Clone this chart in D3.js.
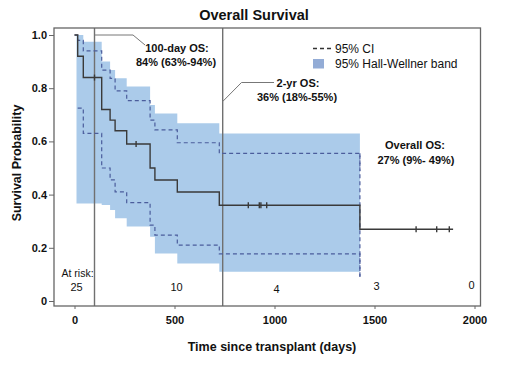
<!DOCTYPE html>
<html><head><meta charset="utf-8">
<script src="https://cdn.jsdelivr.net/npm/d3@7"></script>
<style>
html,body{margin:0;padding:0;background:#fff;}
svg{display:block;font-family:"Liberation Sans",Arial,sans-serif;}
</style></head>
<body><svg id="chart" width="520" height="372"></svg>
<script>
// ---- data ----
const eventTimes = [0, 16, 44, 136, 178, 203, 261, 378, 402, 514, 724, 1427];
const survival   = [1.0, 0.92, 0.84, 0.72, 0.68, 0.64, 0.59, 0.50, 0.455, 0.41, 0.36, 0.27];
const lastFollowUp = 1893;
const ciUpper = [1.0, 0.98, 0.94, 0.868, 0.837, 0.79, 0.753, 0.68, 0.643, 0.595, 0.555, 0.49];
const ciLower = [null, 0.725, 0.63, 0.50, 0.455, 0.41, 0.37, 0.285, 0.248, 0.21, 0.177, 0.09];
const bandTimes = [10, 44, 136, 178, 203, 261, 378, 402, 514, 724, 1427];
const bandUpper = [1.0, 0.975, 0.90, 0.868, 0.837, 0.806, 0.737, 0.705, 0.668, 0.63, 0.63];
const bandLower = [0.367, 0.367, 0.361, 0.342, 0.311, 0.28, 0.242, 0.179, 0.141, 0.11, 0.11];
const censorTimes = [100, 308, 869, 924, 932, 961, 1708, 1811, 1874];
const riskTimes = [0, 500, 1000, 1500, 2000];
const riskCounts = [25, 10, 4, 3, 0];
const xTicks = [0, 500, 1000, 1500, 2000];
const yTicks = [0, 0.2, 0.4, 0.6, 0.8, 1.0];
const refTimes = [100, 741];

// ---- layout ----
const svg = d3.select("#chart");
const frame = {left: 54, right: 480.5, top: 28, bottom: 306};
const x = d3.scaleLinear().domain([0, 2000]).range([74.5, 474.5]);
const y = d3.scaleLinear().domain([0, 1]).range([301, 35]);

function survAt(t){
  let s = survival[0];
  for (let i = 0; i < eventTimes.length; i++) if (eventTimes[i] <= t) s = survival[i];
  return s;
}

// band
const bandData = bandTimes.map((t,i)=>({t, lo: bandLower[i], hi: bandUpper[i]}));
svg.append("path")
  .datum(bandData)
  .attr("fill", "#abcbea")
  .attr("d", d3.area().curve(d3.curveStepAfter).x(d=>x(d.t)).y0(d=>y(d.lo)).y1(d=>y(d.hi)));

// reference vertical lines
svg.selectAll("line.ref").data(refTimes).join("line")
  .attr("class","ref")
  .attr("x1", d=>x(d)).attr("x2", d=>x(d))
  .attr("y1", frame.top).attr("y2", frame.bottom)
  .attr("stroke", "#707070").attr("stroke-width", 1.4);

// CI dashed lines
const stepLine = d3.line().curve(d3.curveStepAfter).x(d=>x(d.t)).y(d=>y(d.v));
const upData = eventTimes.map((t,i)=>({t, v: ciUpper[i]}));
const loData = eventTimes.map((t,i)=>({t, v: ciLower[i]})).filter(d=>d.v!==null);
[upData, loData].forEach(dat=>{
  svg.append("path").datum(dat)
    .attr("fill","none").attr("stroke","#4b5d9c").attr("stroke-width",1.2)
    .attr("stroke-dasharray","4,3")
    .attr("d", stepLine);
});
const lastI = eventTimes.length - 1;
svg.append("line")
  .attr("x1", x(eventTimes[lastI])).attr("x2", x(eventTimes[lastI]))
  .attr("y1", y(ciUpper[lastI-1])).attr("y2", y(ciLower[lastI]))
  .attr("stroke","#4b5d9c").attr("stroke-width",1.2).attr("stroke-dasharray","4,3");

// KM curve
const kmData = eventTimes.map((t,i)=>({t, v: survival[i]}));
kmData.push({t: lastFollowUp, v: survival[lastI]});
svg.append("path").datum(kmData)
  .attr("fill","none").attr("stroke","#3a3a3a").attr("stroke-width",1.4)
  .attr("d", stepLine);

// censor marks
svg.selectAll("line.cens").data(censorTimes).join("line")
  .attr("class","cens")
  .attr("x1", d=>x(d)).attr("x2", d=>x(d))
  .attr("y1", d=>y(survAt(d))-3).attr("y2", d=>y(survAt(d))+3)
  .attr("stroke","#3a3a3a").attr("stroke-width",1.4);

// frame
svg.append("rect")
  .attr("x", frame.left).attr("y", frame.top)
  .attr("width", frame.right-frame.left).attr("height", frame.bottom-frame.top)
  .attr("fill","none").attr("stroke","#666").attr("stroke-width",1.3);

// axes
const yAxis = d3.axisLeft(y).tickValues(yTicks).tickSize(5).tickPadding(2)
  .tickFormat(d=> d===0 ? "0" : d3.format(".1f")(d));
const gy = svg.append("g").attr("transform", `translate(${frame.left},0)`).call(yAxis);
const xAxis = d3.axisBottom(x).tickValues(xTicks).tickSize(3).tickPadding(7).tickFormat(d3.format("d"));
const gx = svg.append("g").attr("transform", `translate(0,${frame.bottom})`).call(xAxis);
[gx, gy].forEach(g=>{
  g.select(".domain").remove();
  g.selectAll(".tick line").attr("stroke","#666");
  g.selectAll(".tick text").attr("fill","#111").style("font-size","11px").style("font-weight","bold")
    .style("font-family",'"Liberation Sans",Arial,sans-serif');
});

// titles
svg.append("text").attr("x", 254).attr("y", 20).attr("text-anchor","middle")
  .style("font-size","14.5px").style("font-weight","bold").attr("fill","#111").text("Overall Survival");
svg.append("text").attr("x", 272).attr("y", 351).attr("text-anchor","middle")
  .style("font-size","12.5px").style("font-weight","bold").attr("fill","#111").text("Time since transplant (days)");
svg.append("text").attr("transform","translate(21,163) rotate(-90)").attr("text-anchor","middle")
  .style("font-size","12.5px").style("font-weight","bold").attr("fill","#111").text("Survival Probability");

// annotations
const ann = svg.append("g").style("font-size","11px").style("font-weight","bold").attr("fill","#111");
ann.append("text").attr("x",177).attr("y",52).attr("text-anchor","middle").text("100-day OS:");
ann.append("text").attr("x",176).attr("y",66).attr("text-anchor","middle").text("84% (63%-94%)");
ann.append("text").attr("x",298).attr("y",86.5).attr("text-anchor","middle").text("2-yr OS:");
ann.append("text").attr("x",297).attr("y",100.5).attr("text-anchor","middle").text("36% (18%-55%)");
ann.append("text").attr("x",415).attr("y",149).attr("text-anchor","middle").text("Overall OS:");
ann.append("text").attr("x",416).attr("y",164).attr("text-anchor","middle").text("27% (9%- 49%)");

// leader lines
const lead = d3.line();
svg.append("path").attr("fill","none").attr("stroke","#777").attr("stroke-width",1)
  .attr("d", lead([[x(refTimes[0]), frame.top+7],[133,35],[145,45]]));
svg.append("path").attr("fill","none").attr("stroke","#777").attr("stroke-width",1)
  .attr("d", lead([[x(refTimes[1]),101.5],[241.5,82.5],[274,82.5]]));

// legend
const lg = svg.append("g");
lg.append("line").attr("x1",313).attr("x2",333).attr("y1",48.5).attr("y2",48.5)
  .attr("stroke","#333").attr("stroke-width",1.3).attr("stroke-dasharray","4,3");
lg.append("text").attr("x",335).attr("y",52.5).style("font-size","12px").attr("fill","#111").text("95% CI");
lg.append("rect").attr("x",313).attr("y",59).attr("width",11).attr("height",9.5).attr("fill","#93acd6");
lg.append("text").attr("x",335).attr("y",67.5).style("font-size","12px").attr("fill","#111").text("95% Hall-Wellner band");

// at risk
svg.append("text").attr("x",61.5).attr("y",277).style("font-size","10.5px").attr("fill","#111").text("At risk:");
svg.selectAll("text.risk").data(riskTimes).join("text")
  .attr("class","risk")
  .attr("x",(d,i)=> i===riskTimes.length-1 ? x(d)-3 : x(d)+2)
  .attr("y",(d,i)=>[291,291,293,290,289][i])
  .attr("text-anchor","middle").style("font-size","11px").attr("fill","#111")
  .text((d,i)=>riskCounts[i]);
</script></body></html>
